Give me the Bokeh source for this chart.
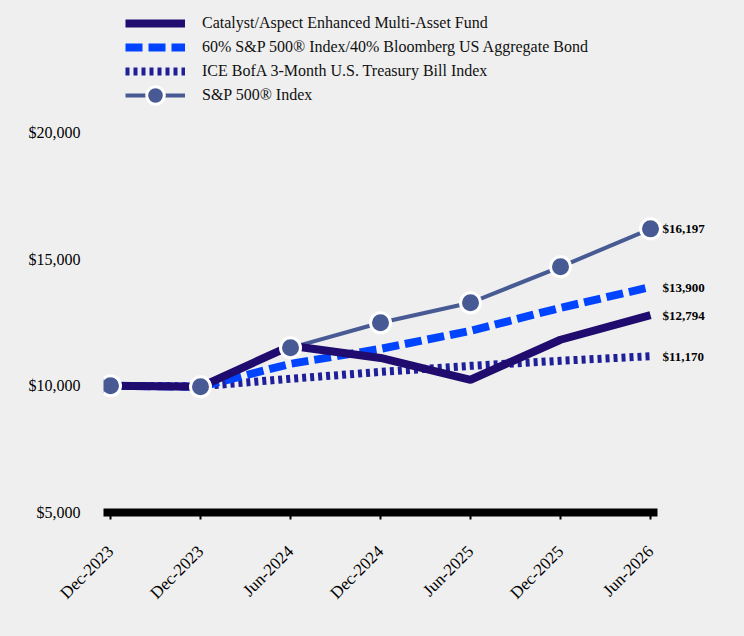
import math
from bokeh.plotting import figure
from bokeh.models import ColumnDataSource, FixedTicker, NumeralTickFormatter, Legend, LegendItem
from bokeh.core.properties import value
from bokeh.embed import file_html
from bokeh.resources import INLINE

periods = ["Dec-2023", "Dec-2023", "Jun-2024", "Dec-2024", "Jun-2025", "Dec-2025", "Jun-2026"]
fund = [10000, 9960, 11580, 11100, 10240, 11820, 12794]
blend = [10000, 9960, 10870, 11460, 12170, 13080, 13900]
tbill = [10000, 9985, 10280, 10550, 10790, 10990, 11170]
sp500 = [10000, 9960, 11500, 12490, 13280, 14700, 16197]
names = ["Catalyst/Aspect Enhanced Multi-Asset Fund",
         "60% S&P 500\u00ae Index/40% Bloomberg US Aggregate Bond",
         "ICE BofA 3-Month U.S. Treasury Bill Index",
         "S&P 500\u00ae Index"]
y_ticks = [5000, 10000, 15000, 20000]

xs = list(range(len(periods)))
FONT = "Liberation Serif"
BG = "#efefef"

x0, x1 = -0.0778, 6.0778
p = figure(width=736, height=628, output_backend="svg", toolbar_location=None,
           x_range=(x0, x0 + 625 / 90), y_range=(5000, 24897),
           min_border_left=103, min_border_right=8, min_border_top=8, min_border_bottom=116)
p.background_fill_color = BG
p.border_fill_color = BG
p.outline_line_color = None
p.grid.visible = False

src = ColumnDataSource(dict(x=xs, fund=fund, blend=blend, tbill=tbill, sp=sp500))

r_sp_line = p.line("x", "sp", source=src, line_color="#475a93", line_width=4)
r_tb = p.line("x", "tbill", source=src, line_color="#1f1f99", line_width=8, line_dash="4 4")
r_bl = p.line("x", "blend", source=src, line_color="#0044ff", line_width=8, line_dash="17 6")
r_fd = p.line("x", "fund", source=src, line_color="#200c6e", line_width=8)
r_sp = p.scatter("x", "sp", source=src, size=20, fill_color="#475a93", line_color="white", line_width=3)

# end labels
last = len(xs) - 1
end_vals = [sp500[last], blend[last], fund[last], tbill[last]]
lsrc = ColumnDataSource(dict(x=[xs[last]] * 4, y=end_vals,
                             t=["${:,}".format(v) for v in end_vals]))
p.text("x", "y", text="t", source=lsrc, x_offset=12, text_baseline="middle", text_align="left",
       text_font=value(FONT), text_font_style=value("bold"), text_font_size=value("13px"),
       text_color="black")

# axes
p.xaxis.bounds = (x0, x1)
p.xaxis.ticker = FixedTicker(ticks=xs)
p.xaxis.major_label_overrides = {i: s for i, s in enumerate(periods)}
p.xaxis.major_label_orientation = math.pi / 4
p.xaxis.axis_line_width = 8
p.xaxis.axis_line_color = "black"
p.xaxis.major_tick_line_color = "black"
p.xaxis.major_tick_line_width = 2
p.xaxis.major_tick_out = 7
p.xaxis.major_tick_in = 0
p.xaxis.minor_tick_line_color = None
p.xaxis.major_label_standoff = 29
p.xaxis.major_label_text_font = FONT
p.xaxis.major_label_text_font_size = "17px"
p.xaxis.major_label_text_color = "black"

p.yaxis.ticker = FixedTicker(ticks=y_ticks)
p.yaxis.formatter = NumeralTickFormatter(format="$0,0")
p.yaxis.axis_line_color = None
p.yaxis.major_tick_line_color = None
p.yaxis.minor_tick_line_color = None
p.yaxis.major_tick_out = 0
p.yaxis.major_label_standoff = 23
p.yaxis.major_label_text_font = FONT
p.yaxis.major_label_text_font_size = "16px"
p.yaxis.major_label_text_color = "black"

common = dict(padding=0, spacing=0, margin=0, glyph_width=60, label_height=24, label_standoff=17,
              label_text_font=FONT, label_text_font_size="16px", label_text_color="#111111",
              border_line_color=None, background_fill_alpha=0)
legend1 = Legend(items=[
    LegendItem(label=names[0], renderers=[r_fd]),
    LegendItem(label=names[1], renderers=[r_bl]),
    LegendItem(label=names[2], renderers=[r_tb]),
], location=(22, 429), glyph_height=24, **common)
legend2 = Legend(items=[
    LegendItem(label=names[3], renderers=[r_sp_line, r_sp]),
], location=(22, 395), glyph_height=44, **common)
p.add_layout(legend1, "center")
p.add_layout(legend2, "center")

html = file_html(p, INLINE)
html = html.replace("<head>", "<head><style>html,body{background:#efefef;}</style>", 1)
open("out.html", "w").write(html)
